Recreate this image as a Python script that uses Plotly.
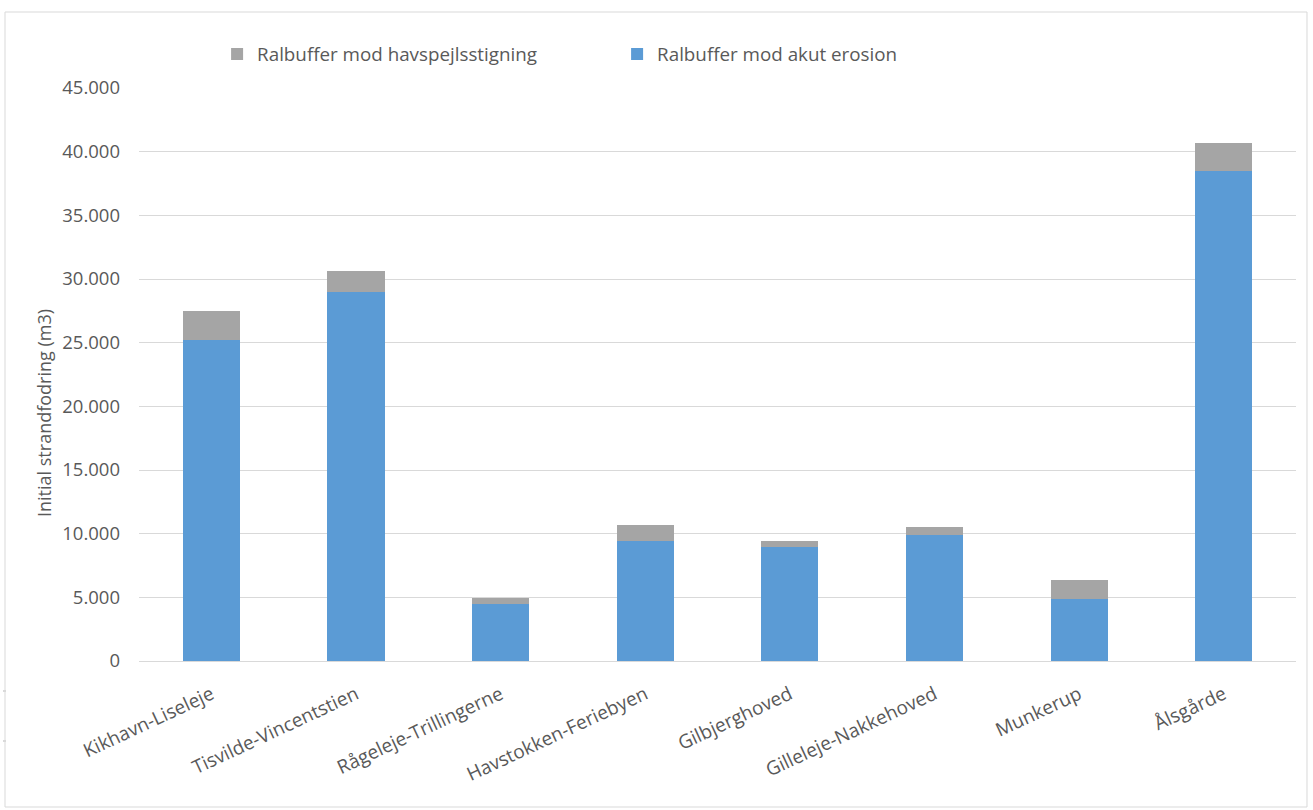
import plotly.graph_objects as go

categories = ["Kikhavn-Liseleje", "Tisvilde-Vincentstien", "Rågeleje-Trillingerne",
              "Havstokken-Feriebyen", "Gilbjerghoved", "Gilleleje-Nakkehoved",
              "Munkerup", "Ålsgårde"]
akut_erosion = [25200, 28950, 4450, 9420, 8950, 9900, 4900, 38480]
havspejl = [2260, 1700, 520, 1260, 470, 650, 1460, 2180]
y_ticks = [0, 5000, 10000, 15000, 20000, 25000, 30000, 35000, 40000, 45000]

FONT = "Open Sans"
TXT = "#595959"
PW, PH = 1157, 573  # plot area size in px (for paper-relative decorations)

fig = go.Figure()
fig.add_trace(go.Bar(name="Ralbuffer mod akut erosion", x=categories, y=akut_erosion,
                     marker=dict(color="#5b9bd5", line=dict(width=0))))
fig.add_trace(go.Bar(name="Ralbuffer mod havspejlsstigning", x=categories, y=havspejl,
                     marker=dict(color="#a5a5a5", line=dict(width=0))))

shapes = [dict(type="rect", xref="paper", yref="paper", x0=-134/PW, x1=1.0095,
               y0=-146/PH, y1=1 + 76/PH, line=dict(color="#d9d9d9", width=1))]
for py in (691, 741):
    shapes.append(dict(type="line", xref="paper", yref="paper",
                       x0=-136/PW, x1=-133/PW, y0=(661 - py)/PH, y1=(661 - py)/PH,
                       line=dict(color="#d9d9d9", width=2)))

fig.update_layout(
    barmode="stack",
    bargap=0.605,
    width=1313, height=810,
    margin=dict(l=139, r=17, t=88, b=149),
    paper_bgcolor="white", plot_bgcolor="white",
    separators=",.",
    font=dict(family=FONT, size=19, color=TXT),
    showlegend=True,
    legend=dict(orientation="h", traceorder="reversed", x=0.0675, xanchor="left",
                y=1.092, yanchor="top", font=dict(size=18.8, color=TXT),
                entrywidth=355, bgcolor="rgba(0,0,0,0)"),
    xaxis=dict(tickangle=-25, showgrid=False, showline=False, ticks="",
               ticklabelstandoff=18, tickfont=dict(size=19, color=TXT)),
    yaxis=dict(range=[0, 45000], tickvals=y_ticks, tickformat=",d",
               showgrid=True, gridcolor="#d9d9d9", gridwidth=1, zeroline=True,
               zerolinecolor="#d9d9d9", zerolinewidth=1, showline=False,
               ticks="", ticklabelstandoff=18, tickfont=dict(size=18.5, color=TXT)),
    shapes=shapes,
    annotations=[dict(text="Initial strandfodring (m3)", xref="paper", yref="paper",
                      x=-95/PW, y=(661 - 413) / PH, textangle=-90, showarrow=False,
                      font=dict(size=18, color=TXT), xanchor="center", yanchor="middle")],
)

fig.write_html("out.html")
